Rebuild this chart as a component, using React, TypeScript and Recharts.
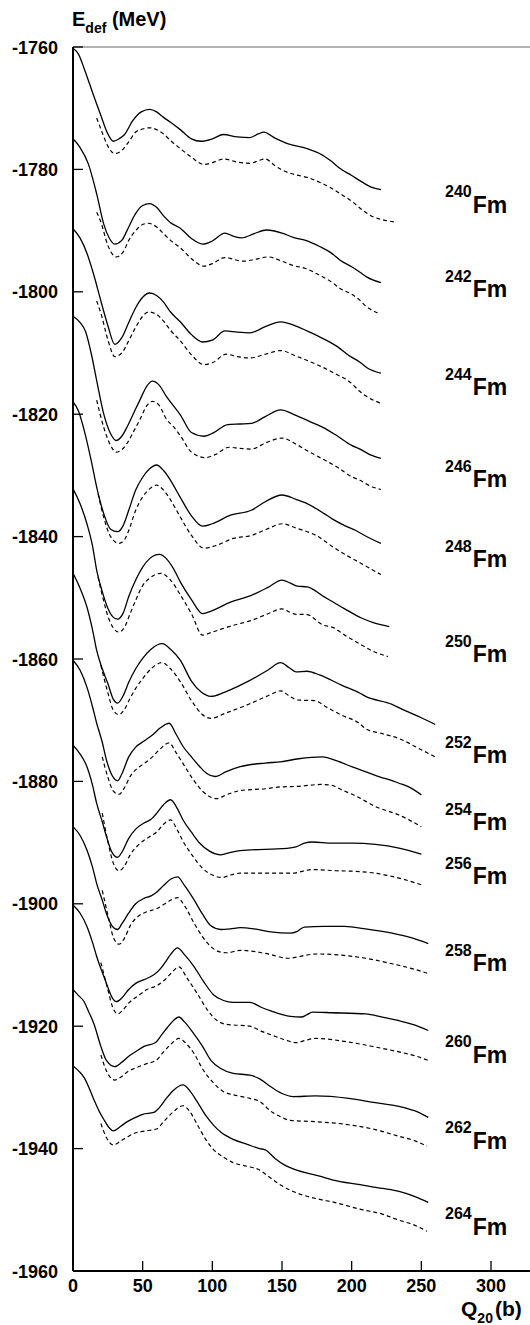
import { LineChart, Line, XAxis, YAxis, ReferenceLine, ReferenceDot } from 'recharts'

// deformation energy curves, [Q20 (b), E_def (MeV)]
const fm240 = [[0,-1760.2],[4,-1761.2],[8,-1763.5],[12,-1766.1],[16,-1768.7],[20,-1771.2],[25,-1774.2],[29,-1775.4],[33,-1775.0],[37,-1774.3],[43,-1772.0],[49,-1770.6],[55,-1770.2],[60,-1770.6],[65,-1771.5],[70,-1772.3],[77,-1773.5],[85,-1775.0],[92,-1775.4],[100,-1775.0],[108,-1774.3],[118,-1774.7],[127,-1774.8],[133,-1774.2],[137,-1773.9],[145,-1774.9],[153,-1775.7],[168,-1776.6],[177,-1777.4],[185,-1778.6],[192,-1779.9],[200,-1781.0],[207,-1782.0],[214,-1782.9],[221,-1783.3]]
const fm240d = [[17,-1771.6],[21,-1774.0],[25,-1776.2],[30,-1777.4],[35,-1776.9],[40,-1775.5],[45,-1773.9],[50,-1773.4],[55,-1773.2],[60,-1773.5],[65,-1774.2],[70,-1775.3],[77,-1776.6],[85,-1778.0],[94,-1779.2],[100,-1778.9],[108,-1778.3],[118,-1778.8],[127,-1779.0],[134,-1778.5],[138,-1778.3],[145,-1779.4],[151,-1780.2],[160,-1780.9],[168,-1781.3],[177,-1782.1],[185,-1783.0],[192,-1784.0],[200,-1785.2],[207,-1786.5],[214,-1787.6],[220,-1788.1],[231,-1788.6]]

const fm242 = [[0,-1775.0],[5,-1776.4],[11,-1779.1],[17,-1784.0],[22,-1788.9],[26,-1791.2],[30,-1792.2],[35,-1791.6],[40,-1789.4],[45,-1787.2],[50,-1785.9],[55,-1785.6],[60,-1786.2],[65,-1787.6],[70,-1788.7],[77,-1789.6],[85,-1791.3],[93,-1792.2],[100,-1791.7],[109,-1790.4],[115,-1790.9],[121,-1791.2],[130,-1790.5],[139,-1789.9],[150,-1790.4],[158,-1791.1],[167,-1791.6],[177,-1792.6],[185,-1793.6],[192,-1794.9],[200,-1795.9],[206,-1796.8],[211,-1797.6],[221,-1798.5]]
const fm242d = [[17,-1787.0],[20,-1788.6],[25,-1792.4],[31,-1794.3],[36,-1793.5],[40,-1791.6],[45,-1790.0],[50,-1789.0],[54,-1788.8],[60,-1789.4],[65,-1790.5],[70,-1791.6],[77,-1792.8],[85,-1794.6],[94,-1795.8],[100,-1795.4],[109,-1794.4],[122,-1795.0],[131,-1794.7],[140,-1794.3],[150,-1795.0],[158,-1795.7],[167,-1796.2],[177,-1797.3],[185,-1798.3],[192,-1799.5],[200,-1800.4],[206,-1801.4],[210,-1802.3],[219,-1803.5]]

const fm244 = [[0,-1789.7],[5,-1791.2],[10,-1793.7],[15,-1797.3],[20,-1801.5],[25,-1805.5],[30,-1808.6],[35,-1807.5],[40,-1805.0],[45,-1802.6],[50,-1800.9],[55,-1800.2],[60,-1800.6],[65,-1801.7],[70,-1803.3],[77,-1804.9],[85,-1807.0],[93,-1808.2],[100,-1807.9],[109,-1806.4],[118,-1806.6],[127,-1806.7],[138,-1805.7],[149,-1804.9],[160,-1805.6],[170,-1806.6],[179,-1807.6],[190,-1809.0],[198,-1810.4],[206,-1811.5],[211,-1812.4],[221,-1813.3]]
const fm244d = [[17,-1801.5],[20,-1803.5],[25,-1807.8],[30,-1810.6],[35,-1810.0],[40,-1808.0],[45,-1805.8],[50,-1804.0],[54,-1803.3],[60,-1803.7],[65,-1804.8],[70,-1806.3],[77,-1808.0],[85,-1810.3],[94,-1811.9],[100,-1811.6],[110,-1810.2],[118,-1810.6],[127,-1810.8],[138,-1810.2],[149,-1809.6],[160,-1810.5],[170,-1811.4],[178,-1812.2],[190,-1813.6],[198,-1814.6],[206,-1816.3],[210,-1817.0],[221,-1818.2]]

const fm246 = [[0,-1804.0],[5,-1805.0],[9,-1806.5],[13,-1810.0],[17,-1814.5],[22,-1819.9],[27,-1823.2],[31,-1824.3],[35,-1823.6],[39,-1822.0],[44,-1819.6],[48,-1817.7],[53,-1815.4],[57,-1814.6],[62,-1815.3],[67,-1817.1],[72,-1818.6],[77,-1820.1],[85,-1823.0],[94,-1823.6],[101,-1823.0],[111,-1821.7],[120,-1821.6],[128,-1821.5],[138,-1820.4],[149,-1819.3],[160,-1820.2],[170,-1821.2],[179,-1822.1],[190,-1823.6],[200,-1825.1],[206,-1825.7],[213,-1826.6],[221,-1827.2]]
const fm246d = [[17,-1817.7],[22,-1822.1],[27,-1825.1],[31,-1826.2],[35,-1825.8],[39,-1824.7],[44,-1822.6],[48,-1820.9],[53,-1818.6],[57,-1817.9],[62,-1818.6],[67,-1820.8],[72,-1822.0],[77,-1823.5],[85,-1826.2],[95,-1827.1],[102,-1826.6],[112,-1825.4],[120,-1825.6],[128,-1825.7],[139,-1824.6],[150,-1823.9],[160,-1824.9],[170,-1826.2],[179,-1827.3],[190,-1828.7],[200,-1830.2],[206,-1830.8],[213,-1831.7],[221,-1832.3]]

const fm248 = [[0,-1818.0],[4,-1819.5],[8,-1822.6],[13,-1827.5],[17,-1831.9],[22,-1836.2],[27,-1838.8],[32,-1839.2],[36,-1838.2],[40,-1835.7],[45,-1832.4],[50,-1830.3],[55,-1828.9],[60,-1828.3],[65,-1829.2],[70,-1830.8],[77,-1833.6],[85,-1836.6],[93,-1838.3],[100,-1837.9],[113,-1836.5],[128,-1835.7],[138,-1834.3],[150,-1833.2],[160,-1833.9],[168,-1834.6],[180,-1836.2],[186,-1837.1],[195,-1838.2],[203,-1839.0],[210,-1839.9],[221,-1841.1]]
const fm248d = [[18,-1833.0],[22,-1836.8],[27,-1840.0],[33,-1841.1],[37,-1840.5],[40,-1839.0],[45,-1835.7],[50,-1833.5],[55,-1832.2],[60,-1831.6],[65,-1832.4],[70,-1834.0],[77,-1836.8],[85,-1839.8],[94,-1841.9],[102,-1841.5],[115,-1840.3],[128,-1839.8],[139,-1838.8],[150,-1837.9],[160,-1838.6],[176,-1840.0],[186,-1841.6],[195,-1842.9],[203,-1843.9],[210,-1844.8],[221,-1846.2]]

const fm250 = [[0,-1832.2],[5,-1834.6],[10,-1837.9],[14,-1841.5],[17,-1845.5],[21,-1849.0],[25,-1851.7],[29,-1853.2],[32,-1853.5],[36,-1852.5],[40,-1849.8],[45,-1847.1],[50,-1845.0],[55,-1843.6],[62,-1842.9],[67,-1843.6],[72,-1845.2],[77,-1847.4],[85,-1850.3],[93,-1852.6],[100,-1852.1],[113,-1850.7],[128,-1849.6],[140,-1848.3],[150,-1847.1],[156,-1847.6],[161,-1848.1],[168,-1848.2],[180,-1849.8],[186,-1850.6],[195,-1851.8],[207,-1853.3],[215,-1854.0],[227,-1854.7]]
const fm250d = [[18,-1846.6],[22,-1850.5],[26,-1853.6],[33,-1855.6],[37,-1854.8],[41,-1852.6],[45,-1850.4],[50,-1848.0],[55,-1846.8],[63,-1846.0],[70,-1847.1],[77,-1849.5],[85,-1852.6],[93,-1856.1],[100,-1855.6],[115,-1854.5],[128,-1853.7],[140,-1852.6],[150,-1851.8],[156,-1852.4],[161,-1852.7],[167,-1852.7],[180,-1854.5],[186,-1854.8],[195,-1856.1],[207,-1857.7],[215,-1858.7],[226,-1859.6]]

const fm252 = [[0,-1846.0],[5,-1848.4],[10,-1851.5],[14,-1855.2],[17,-1858.6],[21,-1861.6],[25,-1864.0],[29,-1866.6],[32,-1867.2],[36,-1866.0],[40,-1863.8],[45,-1861.6],[50,-1859.9],[56,-1858.4],[64,-1857.5],[70,-1858.4],[77,-1860.2],[85,-1863.6],[92,-1865.4],[99,-1866.1],[108,-1865.5],[118,-1864.5],[127,-1863.5],[140,-1861.8],[149,-1860.6],[155,-1861.4],[160,-1862.1],[168,-1862.0],[177,-1862.6],[193,-1864.3],[206,-1865.6],[210,-1866.1],[229,-1867.4],[238,-1868.4],[250,-1869.6],[260,-1870.7]]
const fm252d = [[20,-1861.0],[25,-1865.5],[29,-1868.4],[33,-1869.1],[37,-1868.2],[41,-1866.4],[45,-1864.8],[50,-1863.2],[56,-1861.6],[64,-1860.6],[70,-1861.6],[77,-1863.7],[85,-1866.8],[92,-1868.9],[99,-1869.7],[110,-1868.8],[125,-1867.5],[140,-1866.0],[149,-1865.2],[155,-1866.0],[161,-1866.7],[173,-1866.8],[183,-1868.0],[193,-1869.2],[206,-1870.6],[210,-1871.4],[222,-1872.2],[234,-1873.0],[248,-1874.6],[260,-1876.0]]

const fm254 = [[0,-1860.2],[5,-1861.8],[10,-1864.6],[14,-1867.8],[17,-1870.5],[21,-1873.6],[24,-1876.5],[28,-1879.0],[32,-1879.9],[35,-1878.8],[40,-1876.0],[45,-1874.4],[51,-1873.4],[57,-1872.4],[63,-1871.2],[69,-1870.5],[74,-1872.3],[79,-1874.3],[85,-1876.0],[91,-1877.6],[96,-1878.7],[102,-1879.2],[110,-1878.4],[120,-1877.6],[138,-1877.0],[149,-1876.8],[162,-1876.3],[179,-1876.0],[190,-1876.7],[200,-1877.6],[217,-1879.0],[234,-1880.3],[241,-1880.9],[250,-1882.2]]
const fm254d = [[21,-1876.0],[25,-1879.3],[29,-1881.6],[33,-1882.1],[37,-1881.0],[41,-1879.2],[46,-1877.9],[51,-1877.1],[57,-1876.0],[63,-1874.6],[69,-1873.7],[74,-1875.3],[79,-1877.1],[86,-1879.6],[93,-1881.6],[103,-1882.8],[111,-1882.1],[120,-1881.5],[138,-1881.2],[149,-1880.9],[162,-1880.8],[178,-1880.5],[185,-1880.6],[193,-1881.4],[204,-1882.5],[217,-1884.1],[234,-1885.5],[250,-1887.4]]

const fm256 = [[0,-1874.1],[5,-1875.5],[10,-1877.6],[14,-1880.6],[17,-1883.6],[21,-1886.6],[24,-1889.0],[28,-1891.6],[32,-1892.4],[35,-1891.6],[40,-1889.3],[45,-1887.8],[51,-1886.8],[56,-1886.2],[59,-1885.5],[65,-1883.8],[70,-1883.0],[75,-1884.5],[79,-1886.3],[85,-1888.3],[91,-1890.1],[98,-1891.4],[106,-1892.0],[113,-1891.6],[120,-1891.3],[138,-1891.1],[150,-1891.0],[160,-1890.7],[166,-1890.1],[172,-1889.9],[186,-1890.1],[200,-1890.1],[217,-1890.3],[234,-1890.9],[250,-1891.9]]
const fm256d = [[21,-1885.2],[25,-1889.8],[29,-1893.4],[33,-1894.6],[37,-1893.8],[41,-1892.0],[46,-1890.6],[51,-1889.6],[56,-1888.9],[60,-1888.3],[65,-1887.0],[70,-1886.3],[75,-1888.0],[79,-1889.8],[86,-1892.2],[93,-1894.2],[100,-1895.3],[107,-1895.7],[113,-1895.3],[120,-1895.0],[138,-1895.0],[158,-1895.0],[166,-1894.6],[172,-1894.4],[189,-1894.6],[203,-1894.7],[217,-1895.0],[234,-1895.8],[250,-1896.9]]

const fm258 = [[0,-1887.4],[5,-1888.8],[10,-1891.2],[14,-1894.0],[17,-1896.7],[21,-1899.4],[24,-1901.6],[28,-1903.6],[32,-1904.2],[35,-1903.3],[40,-1901.5],[45,-1900.0],[51,-1899.1],[56,-1898.7],[60,-1898.1],[65,-1897.0],[70,-1896.0],[75,-1895.6],[80,-1897.0],[87,-1899.4],[93,-1901.7],[99,-1903.6],[106,-1904.2],[113,-1904.1],[120,-1903.9],[130,-1904.1],[142,-1904.6],[156,-1904.8],[161,-1904.5],[166,-1903.8],[180,-1903.7],[195,-1903.7],[210,-1904.1],[229,-1904.8],[242,-1905.5],[255,-1906.5]]
const fm258d = [[21,-1897.8],[25,-1901.8],[29,-1905.5],[33,-1906.6],[37,-1905.6],[41,-1903.6],[47,-1902.0],[53,-1901.3],[60,-1900.8],[66,-1900.0],[71,-1899.3],[75,-1899.0],[80,-1900.3],[87,-1903.2],[93,-1905.4],[100,-1907.2],[106,-1907.9],[111,-1908.0],[120,-1907.6],[138,-1908.1],[155,-1908.9],[161,-1908.7],[167,-1908.4],[176,-1908.2],[193,-1908.4],[210,-1908.9],[229,-1909.8],[242,-1910.5],[255,-1911.4]]

const fm260 = [[0,-1900.2],[5,-1901.5],[10,-1903.7],[14,-1906.3],[17,-1908.6],[21,-1911.2],[24,-1913.0],[28,-1915.3],[31,-1916.0],[35,-1915.4],[40,-1914.0],[45,-1913.0],[51,-1912.4],[58,-1911.6],[62,-1910.8],[66,-1909.6],[70,-1908.3],[75,-1907.2],[80,-1908.3],[87,-1910.3],[94,-1912.8],[101,-1914.9],[108,-1915.8],[115,-1916.1],[127,-1916.1],[135,-1916.9],[142,-1917.5],[156,-1918.4],[164,-1918.5],[168,-1918.1],[172,-1917.7],[186,-1917.8],[210,-1918.0],[222,-1918.5],[234,-1919.1],[245,-1919.8],[255,-1920.7]]
const fm260d = [[20,-1909.6],[25,-1914.0],[28,-1916.6],[32,-1918.0],[36,-1917.3],[41,-1916.0],[47,-1915.0],[53,-1914.0],[60,-1913.4],[66,-1912.4],[71,-1911.2],[76,-1910.3],[82,-1912.2],[89,-1914.6],[96,-1917.2],[103,-1919.0],[110,-1919.7],[115,-1919.8],[127,-1920.0],[135,-1920.8],[142,-1921.4],[152,-1922.2],[160,-1922.7],[167,-1922.3],[174,-1922.0],[198,-1922.6],[217,-1923.4],[234,-1924.2],[245,-1924.8],[255,-1925.6]]

const fm262 = [[0,-1914.0],[4,-1915.0],[8,-1916.0],[11,-1917.5],[15,-1919.6],[20,-1923.3],[24,-1925.6],[30,-1926.6],[35,-1925.9],[40,-1924.9],[44,-1924.3],[51,-1923.3],[59,-1922.7],[64,-1921.3],[70,-1919.6],[76,-1918.5],[80,-1919.3],[86,-1921.0],[93,-1923.3],[99,-1925.6],[106,-1926.9],[115,-1927.7],[127,-1928.0],[134,-1928.6],[142,-1929.9],[150,-1931.0],[158,-1931.5],[174,-1931.4],[198,-1931.8],[217,-1932.5],[234,-1933.1],[245,-1933.8],[255,-1934.9]]
const fm262d = [[20,-1924.7],[24,-1927.3],[30,-1928.8],[35,-1928.2],[40,-1927.3],[44,-1926.9],[52,-1926.2],[60,-1925.5],[65,-1924.2],[70,-1923.0],[76,-1922.0],[81,-1922.8],[87,-1924.5],[93,-1927.0],[101,-1929.3],[108,-1930.7],[115,-1931.2],[127,-1931.8],[134,-1932.3],[142,-1933.9],[150,-1934.9],[156,-1935.4],[174,-1935.6],[198,-1936.1],[217,-1936.9],[234,-1938.0],[245,-1938.7],[254,-1939.6]]

const fm264 = [[0,-1926.5],[4,-1927.3],[8,-1928.4],[11,-1929.8],[15,-1932.0],[19,-1934.0],[22,-1935.2],[26,-1936.6],[29,-1937.1],[34,-1936.4],[39,-1935.6],[44,-1935.0],[50,-1934.4],[58,-1934.1],[62,-1933.3],[67,-1931.8],[72,-1930.5],[79,-1929.6],[84,-1930.6],[89,-1932.3],[95,-1934.5],[101,-1936.2],[106,-1937.3],[115,-1938.5],[125,-1939.3],[134,-1940.0],[138,-1940.2],[145,-1941.6],[152,-1942.7],[159,-1943.4],[177,-1944.5],[186,-1945.1],[206,-1945.9],[222,-1946.5],[234,-1947.0],[245,-1947.8],[255,-1948.8]]
const fm264d = [[20,-1935.9],[24,-1938.2],[29,-1939.4],[34,-1938.8],[39,-1938.1],[44,-1937.5],[52,-1937.1],[60,-1936.8],[65,-1935.6],[71,-1934.2],[79,-1933.0],[84,-1934.0],[89,-1936.0],[95,-1938.4],[101,-1940.2],[108,-1941.4],[115,-1942.3],[125,-1942.9],[134,-1943.5],[140,-1944.5],[148,-1945.8],[156,-1946.8],[177,-1948.3],[186,-1948.7],[206,-1949.9],[222,-1950.7],[234,-1951.7],[245,-1952.5],[254,-1953.5]]

const isotopes = ['240', '242', '244', '246', '248', '250', '252', '254', '256', '258', '260', '262', '264']
const solidCurves = [fm240, fm242, fm244, fm246, fm248, fm250, fm252, fm254, fm256, fm258, fm260, fm262, fm264]
const dashedCurves = [fm240d, fm242d, fm244d, fm246d, fm248d, fm250d, fm252d, fm254d, fm256d, fm258d, fm260d, fm262d, fm264d]
// where the isotope names sit (data units)
const labelQ = 267
const labelE = [-1787.1, -1800.9, -1816.9, -1831.9, -1845.0, -1860.5, -1877.0, -1888.0, -1896.8, -1911.0, -1926.0, -1940.0, -1954.1]

const xTicks = [0, 50, 100, 150, 200, 250, 300]
const yTicks = [-1960, -1940, -1920, -1900, -1880, -1860, -1840, -1820, -1800, -1780, -1760]

const FONT = '"Liberation Sans", Arial, Helvetica, sans-serif'

const toRows = (pts: number[][]) => pts.map(([q, e]) => ({ q, e }))

function YTick({ x, y, payload }: any) {
  return (
    <g>
      <line x1={x} x2={x + 10} y1={y} y2={y} stroke="#000" strokeWidth={1.3} />
      <text x={x - 15} y={y + 6.5} textAnchor="end" fontFamily={FONT} fontWeight="bold" fontSize={18} fill="#000">
        {payload.value}
      </text>
    </g>
  )
}

function XTick({ x, y, payload }: any) {
  return (
    <g>
      <line x1={x} x2={x} y1={y} y2={y - 10} stroke="#000" strokeWidth={1.3} />
      <text x={x} y={y + 21} textAnchor="middle" fontFamily={FONT} fontWeight="bold" fontSize={18} fill="#000">
        {payload.value}
      </text>
    </g>
  )
}

function IsoLabel({ cx, cy, mass }: { cx: number; cy: number; mass: string }) {
  return (
    <text x={cx} y={cy} fontFamily={FONT} fontWeight="bold" fill="#000">
      <tspan fontSize={16} dy={-15.5}>{mass}</tspan>
      <tspan fontSize={23} dy={15.5} dx={1}>Fm</tspan>
    </text>
  )
}

export default function App() {
  return (
    <div style={{ position: 'absolute', left: 0, top: 0, width: 530, height: 1325, background: '#fff' }}>
      <LineChart width={530} height={1325} margin={{ top: 47, right: 0, bottom: 24, left: 1 }}>
        <XAxis
          type="number"
          dataKey="q"
          domain={[0, 328]}
          allowDataOverflow
          ticks={xTicks}
          tick={<XTick />}
          tickSize={0}
          tickMargin={0}
          tickLine={false}
          axisLine={{ stroke: '#000', strokeWidth: 2 }}
          height={30}
        />
        <YAxis
          type="number"
          domain={[-1960, -1760]}
          allowDataOverflow
          ticks={yTicks}
          tick={<YTick />}
          tickSize={0}
          tickMargin={0}
          tickLine={false}
          axisLine={{ stroke: '#000', strokeWidth: 2 }}
          width={72}
        />
        <ReferenceLine y={-1760} stroke="#666" strokeWidth={1.2} />
        {solidCurves.map((pts, i) => (
          <Line
            key={`s${isotopes[i]}`}
            data={toRows(pts)}
            dataKey="e"
            type="monotone"
            stroke="#000"
            strokeWidth={1.3}
            dot={false}
            isAnimationActive={false}
          />
        ))}
        {dashedCurves.map((pts, i) => (
          <Line
            key={`d${isotopes[i]}`}
            data={toRows(pts)}
            dataKey="e"
            type="monotone"
            stroke="#000"
            strokeWidth={1.2}
            strokeDasharray="4 3"
            dot={false}
            isAnimationActive={false}
          />
        ))}
        {isotopes.map((iso, i) => (
          <ReferenceDot
            key={`l${iso}`}
            x={labelQ}
            y={labelE[i]}
            r={0}
            shape={(p: any) => <IsoLabel cx={p.cx} cy={p.cy} mass={iso} />}
          />
        ))}
      </LineChart>
      <svg width={530} height={1325} style={{ position: 'absolute', left: 0, top: 0, pointerEvents: 'none' }}>
        <text x={72} y={26} fontFamily={FONT} fontWeight="bold" fill="#000">
          <tspan fontSize={20}>E</tspan>
          <tspan fontSize={14} dy={7}>def</tspan>
          <tspan fontSize={20} dy={-7}> (MeV)</tspan>
        </text>
        <text x={461} y={1316} fontFamily={FONT} fontWeight="bold" fill="#000">
          <tspan fontSize={21}>Q</tspan>
          <tspan fontSize={14} dy={7}>20</tspan>
          <tspan fontSize={21} dy={-7} dx={2}>(b)</tspan>
        </text>
      </svg>
    </div>
  )
}
